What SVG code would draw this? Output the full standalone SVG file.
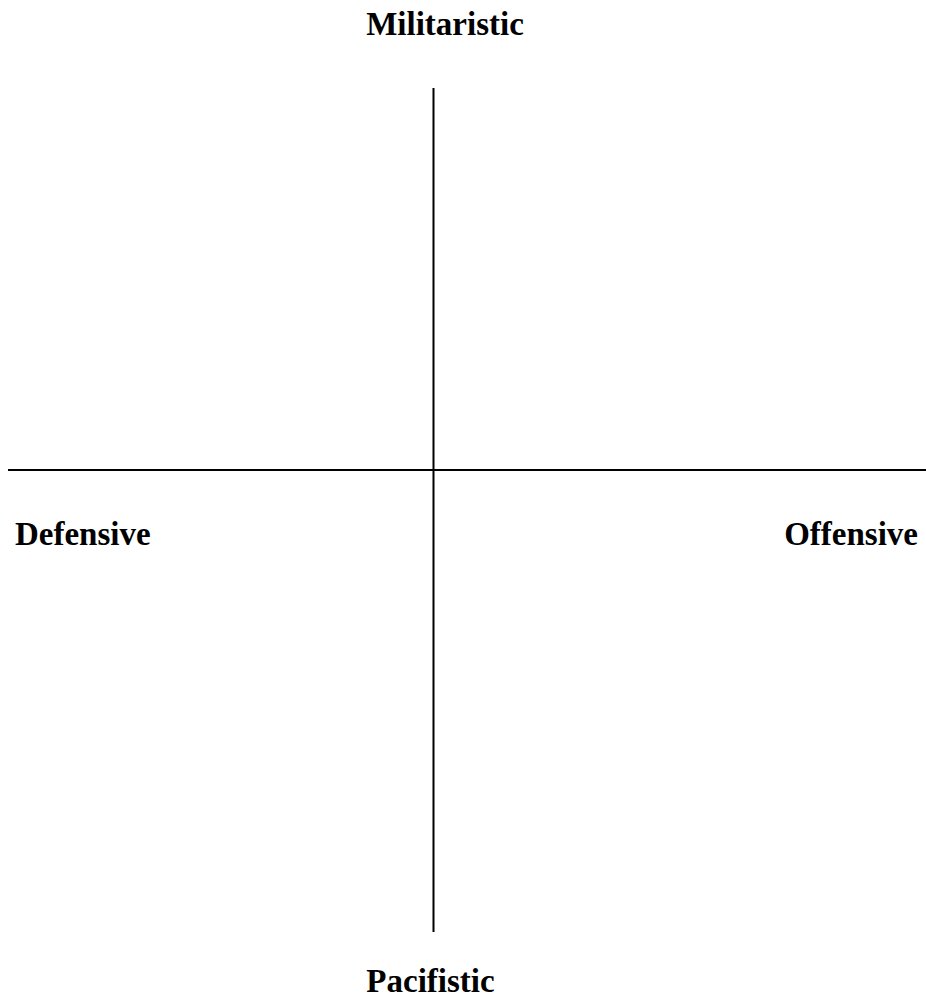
<svg xmlns="http://www.w3.org/2000/svg" width="926" height="1000" viewBox="0 0 926 1000">
<style>
.lbl{font-family:"Liberation Serif","Times New Roman",serif;font-weight:bold;font-size:33px;fill:#000}
.ax{stroke:#000;stroke-width:2;fill:none}
</style>
<rect width="926" height="1000" fill="#fff"/>
<g id="connectors">
<line class="ax" x1="433.5" y1="88" x2="433.5" y2="932"/>
<line class="ax" x1="8" y1="470" x2="926" y2="470"/>
</g>
<g id="militaristic"><text class="lbl" x="445" y="35" text-anchor="middle">Militaristic</text></g>
<g id="defensive"><text class="lbl" x="15" y="545">Defensive</text></g>
<g id="offensive"><text class="lbl" x="918" y="545" text-anchor="end">Offensive</text></g>
<g id="pacifistic"><text class="lbl" x="430.5" y="992" text-anchor="middle">Pacifistic</text></g>
</svg>
